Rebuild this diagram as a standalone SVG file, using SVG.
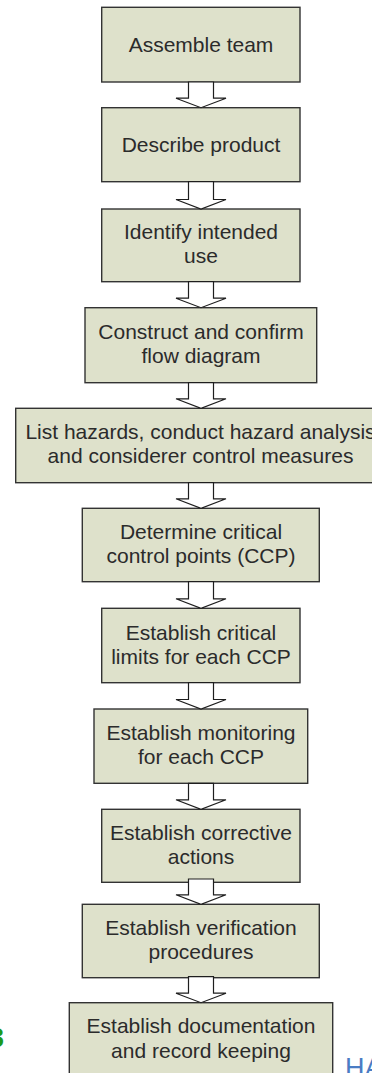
<svg xmlns="http://www.w3.org/2000/svg" width="372" height="1073" viewBox="0 0 372 1073">
  <style>
    .box { fill: #dee1cb; stroke: #333333; stroke-width: 1.4; }
    .lbl { font-family: "Liberation Sans", Arial, sans-serif; font-size: 21px; fill: #2b2b2b; text-anchor: middle; }
    .arrow { fill: #ffffff; stroke: #1e1e1e; stroke-width: 1.2; stroke-linejoin: miter; }
  </style>
  <rect width="372" height="1073" fill="#ffffff"/>

  <!-- steps -->
  <g id="step1">
    <rect class="box" x="101.7" y="7.3" width="198.3" height="74.7"/>
    <text class="lbl" x="201" y="51.5">Assemble team</text>
  </g>
  <g id="step2">
    <rect class="box" x="101.7" y="107.7" width="198.3" height="74"/>
    <text class="lbl" x="201" y="151.5">Describe product</text>
  </g>
  <g id="step3">
    <rect class="box" x="101.7" y="209" width="198.3" height="72.7"/>
    <text class="lbl" x="201" y="239.3">Identify intended</text>
    <text class="lbl" x="201" y="263.3">use</text>
  </g>
  <g id="step4">
    <rect class="box" x="85" y="307.7" width="231.7" height="75"/>
    <text class="lbl" x="201" y="338.6">Construct and confirm</text>
    <text class="lbl" x="201" y="363.3">flow diagram</text>
  </g>
  <g id="step5">
    <rect class="box" x="15.7" y="408.3" width="370.6" height="74.4"/>
    <text class="lbl" x="200.5" y="439.3">List hazards, conduct hazard analysis</text>
    <text class="lbl" x="200.5" y="463.3">and considerer control measures</text>
  </g>
  <g id="step6">
    <rect class="box" x="82.3" y="508.3" width="237" height="73.4"/>
    <text class="lbl" x="201" y="539">Determine critical</text>
    <text class="lbl" x="201" y="563">control points (CCP)</text>
  </g>
  <g id="step7">
    <rect class="box" x="101.7" y="608.3" width="198.3" height="74.4"/>
    <text class="lbl" x="201" y="639.5">Establish critical</text>
    <text class="lbl" x="201" y="663.5">limits for each CCP</text>
  </g>
  <g id="step8">
    <rect class="box" x="94" y="709" width="213.7" height="74.3"/>
    <text class="lbl" x="201" y="740.2">Establish monitoring</text>
    <text class="lbl" x="201" y="764.2">for each CCP</text>
  </g>
  <g id="step9">
    <rect class="box" x="101.7" y="809.3" width="198.3" height="73"/>
    <text class="lbl" x="201" y="839.8">Establish corrective</text>
    <text class="lbl" x="201" y="863.8">actions</text>
  </g>
  <g id="step10">
    <rect class="box" x="82.3" y="904.3" width="237" height="73.4"/>
    <text class="lbl" x="201" y="935">Establish verification</text>
    <text class="lbl" x="201" y="959">procedures</text>
  </g>
  <g id="step11">
    <rect class="box" x="69.3" y="1002.7" width="263.4" height="74"/>
    <text class="lbl" x="201" y="1033.3">Establish documentation</text>
    <text class="lbl" x="201" y="1058.3">and record keeping</text>
  </g>

  <!-- block arrows between steps: shaft +-12.5, head +-25, head depth 9.5 -->
  <g id="connectors">
    <path class="arrow" d="M188.5 82 V98.2 H176 L201 107.7 L226 98.2 H213.5 V82 Z"/>
    <path class="arrow" d="M188.5 181.7 V199.5 H176 L201 209 L226 199.5 H213.5 V181.7 Z"/>
    <path class="arrow" d="M188.5 281.7 V298.2 H176 L201 307.7 L226 298.2 H213.5 V281.7 Z"/>
    <path class="arrow" d="M188.5 382.7 V398.8 H176 L201 408.3 L226 398.8 H213.5 V382.7 Z"/>
    <path class="arrow" d="M188.5 482.7 V498.8 H176 L201 508.3 L226 498.8 H213.5 V482.7 Z"/>
    <path class="arrow" d="M188.5 581.7 V598.8 H176 L201 608.3 L226 598.8 H213.5 V581.7 Z"/>
    <path class="arrow" d="M188.5 682.7 V699.5 H176 L201 709 L226 699.5 H213.5 V682.7 Z"/>
    <path class="arrow" d="M188.5 783.3 V799.8 H176 L201 809.3 L226 799.8 H213.5 V783.3 Z"/>
    <path class="arrow" d="M188.5 879 V894.8 H176 L201 904.3 L226 894.8 H213.5 V879 Z"/>
    <path class="arrow" d="M188.5 976.7 V993.2 H176 L201 1002.7 L226 993.2 H213.5 V976.7 Z"/>
  </g>

  <!-- clipped page text at the edges -->
  <text x="-11" y="1047" font-family="Liberation Sans, Arial, sans-serif" font-size="27" font-weight="bold" fill="#1c9a1c">3</text>
  <text x="345" y="1077" font-family="Liberation Sans, Arial, sans-serif" font-size="27" fill="#4a7cc4">HA</text>
</svg>
